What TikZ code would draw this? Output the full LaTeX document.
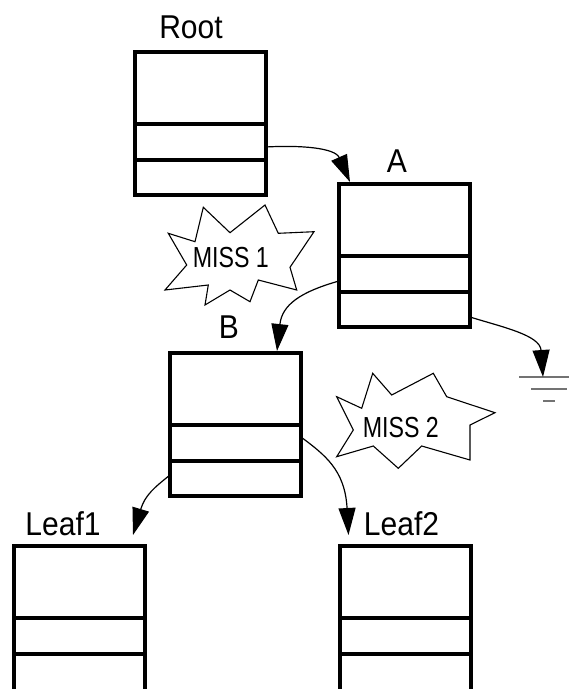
\documentclass[tikz,border=0pt]{standalone}
\usepackage{fontspec}
\setmainfont{Liberation Sans}
\newfontfamily\lblfont{Liberation Sans}[FakeStretch=0.91]
\newfontfamily\missfont{Liberation Sans}[FakeStretch=0.8]
\usetikzlibrary{arrows.meta,calc}

\begin{document}
\begin{tikzpicture}[x=1pt,y=-1pt,
  record/.style={draw,line width=4pt,minimum width=131pt,minimum height=143pt,
                 outer sep=0pt,inner sep=0pt},
  leafrec/.style={record,minimum height=147pt},
  divider/.style={line width=4pt},
  lbl/.style={anchor=base,font=\lblfont\fontsize{33}{36}\selectfont,inner sep=0pt},
  ptr/.style={line width=1.2pt,-{Triangle[length=27pt,width=17pt]}},
  burst/.style={line width=1.1pt,line join=miter},
  misstext/.style={anchor=base,font=\missfont\fontsize{29}{32}\selectfont,inner sep=0pt},
  earth/.style={line width=2pt,draw=black!55}]
\useasboundingbox (0,0) rectangle (569,689);

% three-field records
\node[record]  (root)  at (200,123.5) {};
\node[record]  (A)     at (404.5,255.5) {};
\node[record]  (B)     at (235.5,424.5) {};
\node[leafrec] (leaf1) at (79.5,619.5) {};
\node[leafrec] (leaf2) at (405,619.5) {};

\foreach \n in {root,A,B,leaf1,leaf2}{
  \draw[divider] ($(\n.north west)+(0,71.5)$) -- ($(\n.north east)+(0,71.5)$);
  \draw[divider] ($(\n.north west)+(0,108)$)  -- ($(\n.north east)+(0,108)$);
}

% record names
\node[lbl] (rootlbl)  at (191,38)    {Root};
\node[lbl] (Albl)     at (397,172)   {A};
\node[lbl] (Blbl)     at (229,338)   {B};
\node[lbl] (leaf1lbl) at (63,535)    {Leaf1};
\node[lbl] (leaf2lbl) at (401.5,535) {Leaf2};

% ground symbol
\coordinate (gnd) at (543,377);
\draw[earth] ($(gnd)+(-24,0)$) -- ($(gnd)+(36,0)$);
\draw[earth] ($(gnd)+(-12,12)$) -- ($(gnd)+(24,12)$);
\draw[earth] ($(gnd)+(0,24)$) -- ($(gnd)+(12,24)$);

% pointers
\draw[ptr] ($(root.north east)+(0,95)$) .. controls (302,145) and (335,148) .. ($(A.north west)+(11,-2)$);
\draw[ptr] ($(A.north west)+(0,97)$) .. controls (300,292) and (282,305) .. ($(B.north west)+(107,-2)$);
\draw[ptr] ($(A.north east)+(0,133)$) .. controls (502,327) and (540,335) .. (gnd);
\draw[ptr] ($(B.north west)+(0,122)$) .. controls (155,487) and (145,495) .. ($(leaf1.north west)+(119,-11)$);
\draw[ptr] ($(B.north east)+(0,84)$) .. controls (325,455) and (345,470) .. ($(leaf2.north west)+(9,-11)$);

% miss bursts
\draw[burst] (203.3,207.3) -- (230,232.7) -- (265,205) -- (278.3,233.3) -- (314,231.7)
  -- (290,267.3) -- (296.7,290) -- (258.3,280) -- (250,301.7) -- (230,290)
  -- (205,305) -- (208.3,285) -- (165,290) -- (186.7,265) -- (168.3,233.3)
  -- (195,241.7) -- cycle;
\node[misstext] (miss1) at (230.8,267.3) {MISS 1};

\draw[burst] (372.7,373.3) -- (391.7,395) -- (433.3,373.3) -- (446.7,396.7) -- (495,412.7)
  -- (470,425) -- (470,460) -- (421.7,446) -- (398.3,468.3) -- (373.3,446)
  -- (336.7,456.7) -- (353.3,430) -- (336.7,396.7) -- (361.7,408.3) -- cycle;
\node[misstext] (miss2) at (400.8,437.3) {MISS 2};
\end{tikzpicture}
\end{document}
